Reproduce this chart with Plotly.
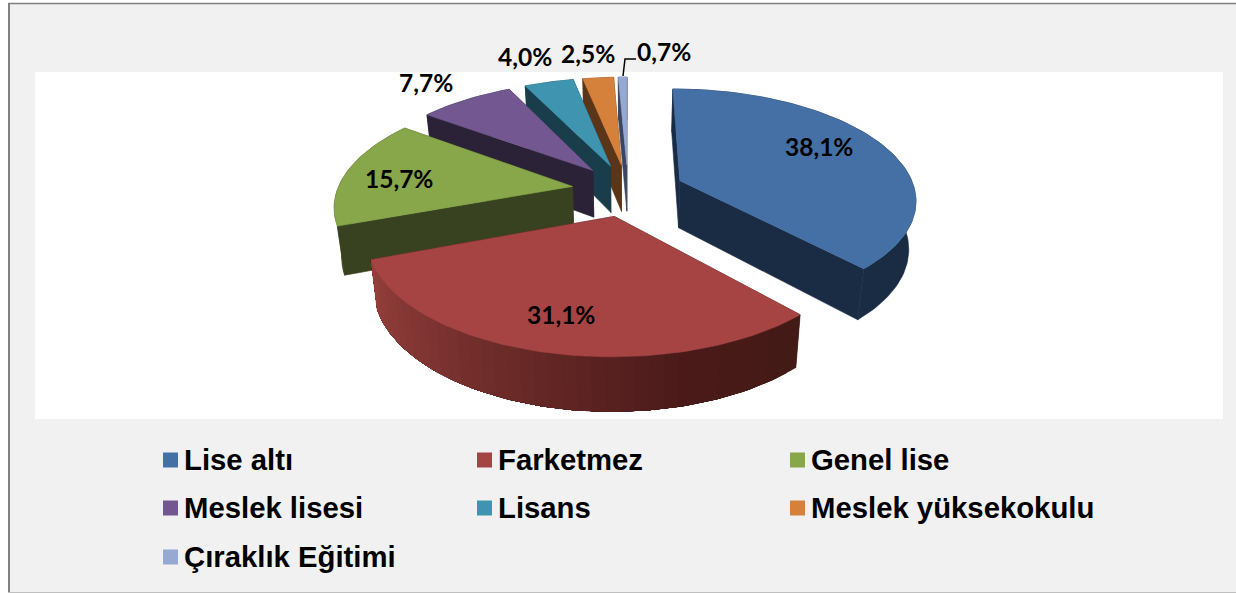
import math
import numpy as np
import plotly.graph_objects as go

# ---- data ----
categories = ["Lise altı", "Farketmez", "Genel lise", "Meslek lisesi", "Lisans",
              "Meslek yüksekokulu", "Çıraklık Eğitimi"]
values = [38.1, 31.1, 15.7, 7.7, 4.0, 2.5, 0.7]

# ---- styles ----
top_colors = ["#4470A6", "#A64444", "#88A64A", "#725790", "#3F95AF", "#D6813B", "#95A9D2"]
side_colors = ["#1A2C44", "#4A1A18", "#394220", "#2C2237", "#193D4A", "#5A3518", "#3A4560"]
legend_colors = ["#4470A6", "#A64444", "#88A64A", "#725790", "#3F95AF", "#D6813B", "#95A9D2"]
label_pos = [(819, 146), (561, 314), (399, 178), (426, 82), (525, 56), (588, 53), (664, 51)]
legend_cols = [163, 477, 790]
legend_rows = [459.5, 507.5, 556.5]

# projection of the tilted pie (perspective)
VX, VY, A, B, K = 628.0, 190.0, 235.0, 108.9, 0.158
EXPLODE, DEPTH, SHRINK = 0.24, 47.5, 0.975


def project(wx, wy):
    s = 1.0 / (1.0 + K * wy)
    return VX + A * wx * s, VY - B * wy * s, s


def top_pt(wx, wy):
    x, y, _ = project(wx, wy)
    return x, y


def bottom_pt(wx, wy):
    x, y, s = project(wx, wy)
    return VX + (x - VX) * SHRINK, y + DEPTH * (1 + 0.65 * (s - 1))


def world(theta, ox, oy, r=1.0):
    return ox + r * math.sin(theta), oy + r * math.cos(theta)


fig = go.Figure()


def poly(pts, color, lw=0.6):
    xs = [p[0] for p in pts] + [pts[0][0]]
    ys = [p[1] for p in pts] + [pts[0][1]]
    fig.add_trace(go.Scatter(x=xs, y=ys, mode="lines", fill="toself", fillcolor=color,
                             line=dict(color=color, width=lw), hoverinfo="skip",
                             showlegend=False))


def lerp_hex(stops, t):
    t = max(0.0, min(1.0, t))
    n = len(stops) - 1
    i = min(int(t * n), n - 1)
    f = t * n - i
    a = [int(stops[i][j:j + 2], 16) for j in (1, 3, 5)]
    b = [int(stops[i + 1][j:j + 2], 16) for j in (1, 3, 5)]
    return "#%02x%02x%02x" % tuple(round(a[k] + (b[k] - a[k]) * f) for k in range(3))


total = sum(values)
edges = np.concatenate([[0.0], np.cumsum(values)]) / total * 2 * math.pi
farket_stops = ["#953F3B", "#7D3432", "#632725", "#4A1A19", "#421A16"]

# painter's order: back slices first
for idx in [6, 5, 4, 3, 2, 0, 1]:
    t0, t1 = edges[idx], edges[idx + 1]
    mid = (t0 + t1) / 2
    ox, oy = EXPLODE * math.sin(mid), EXPLODE * math.cos(mid)
    thetas = np.linspace(t0, t1, max(4, int((t1 - t0) * 40)))
    arc = [world(t, ox, oy) for t in thetas]
    side = side_colors[idx]
    # radial walls
    for w in (arc[0], arc[-1]):
        poly([top_pt(ox, oy), top_pt(*w), bottom_pt(*w), bottom_pt(ox, oy)], side)
    # outer wall
    if idx == 1:
        n = len(arc) - 1
        for i in range(0, n, 2):
            col = lerp_hex(farket_stops, 1 - (i + 1) / n)
            rest = arc[i:]
            poly([top_pt(*p) for p in rest] + [bottom_pt(*p) for p in reversed(rest)], col, lw=0)
    else:
        poly([top_pt(*p) for p in arc] + [bottom_pt(*p) for p in reversed(arc)], side)
    # top face
    poly([top_pt(ox, oy)] + [top_pt(*p) for p in arc], top_colors[idx])

annotations = []
for v, (lx, ly) in zip(values, label_pos):
    annotations.append(dict(x=lx, y=ly, xref="x", yref="y", showarrow=False,
                            text=f"<b>{v:.1f}%</b>".replace(".", ","),
                            font=dict(family="Lato", size=24.5, color="#000000")))

# legend drawn on a grid
leg_x, leg_y = [], []
for i, name in enumerate(categories):
    col = legend_cols[i % 3]
    row = legend_rows[i // 3]
    leg_x.append(col + 7.5)
    leg_y.append(row + 0.5)
    annotations.append(dict(x=col + 19, y=row, xref="x", yref="y", showarrow=False,
                            xanchor="left", text=f"<b>{name}</b>",
                            font=dict(family="Liberation Sans", size=29.3, color="#000000")))
fig.add_trace(go.Scatter(x=leg_x, y=leg_y, mode="markers", hoverinfo="skip", showlegend=False,
                         marker=dict(symbol="square", size=15, color=legend_colors, line=dict(width=0))))

shapes = [
    dict(type="rect", xref="x", yref="y", x0=9, x1=1240, y0=4, y1=592, layer="below",
         fillcolor="#F1F1F1", line=dict(width=0)),
    dict(type="line", xref="x", yref="y", x0=9, x1=9, y0=3, y1=592, layer="below",
         line=dict(color="#808080", width=2)),
    dict(type="line", xref="x", yref="y", x0=8, x1=1240, y0=3.5, y1=3.5, layer="below",
         line=dict(color="#808080", width=1.5)),
    dict(type="line", xref="x", yref="y", x0=8, x1=1240, y0=592.5, y1=592.5, layer="below",
         line=dict(color="#BFBFBF", width=1)),
    dict(type="rect", xref="x", yref="y", x0=35, x1=1223, y0=72, y1=419, layer="below",
         fillcolor="#FFFFFF", line=dict(width=0)),
    dict(type="path", xref="x", yref="y", path="M 623 76 L 625 59 L 636 59",
         line=dict(color="#000000", width=1.5)),
]

fig.update_layout(
    width=1236, height=593, margin=dict(l=0, r=0, t=0, b=0),
    paper_bgcolor="#FFFFFF", plot_bgcolor="rgba(0,0,0,0)",
    xaxis=dict(range=[0, 1236], visible=False, fixedrange=True),
    yaxis=dict(range=[593, 0], visible=False, fixedrange=True),
    showlegend=False, shapes=shapes, annotations=annotations,
)
fig.write_html("out.html", config=dict(displayModeBar=False),
               post_script="document.body.style.margin='0';document.documentElement.style.overflow='hidden';")
